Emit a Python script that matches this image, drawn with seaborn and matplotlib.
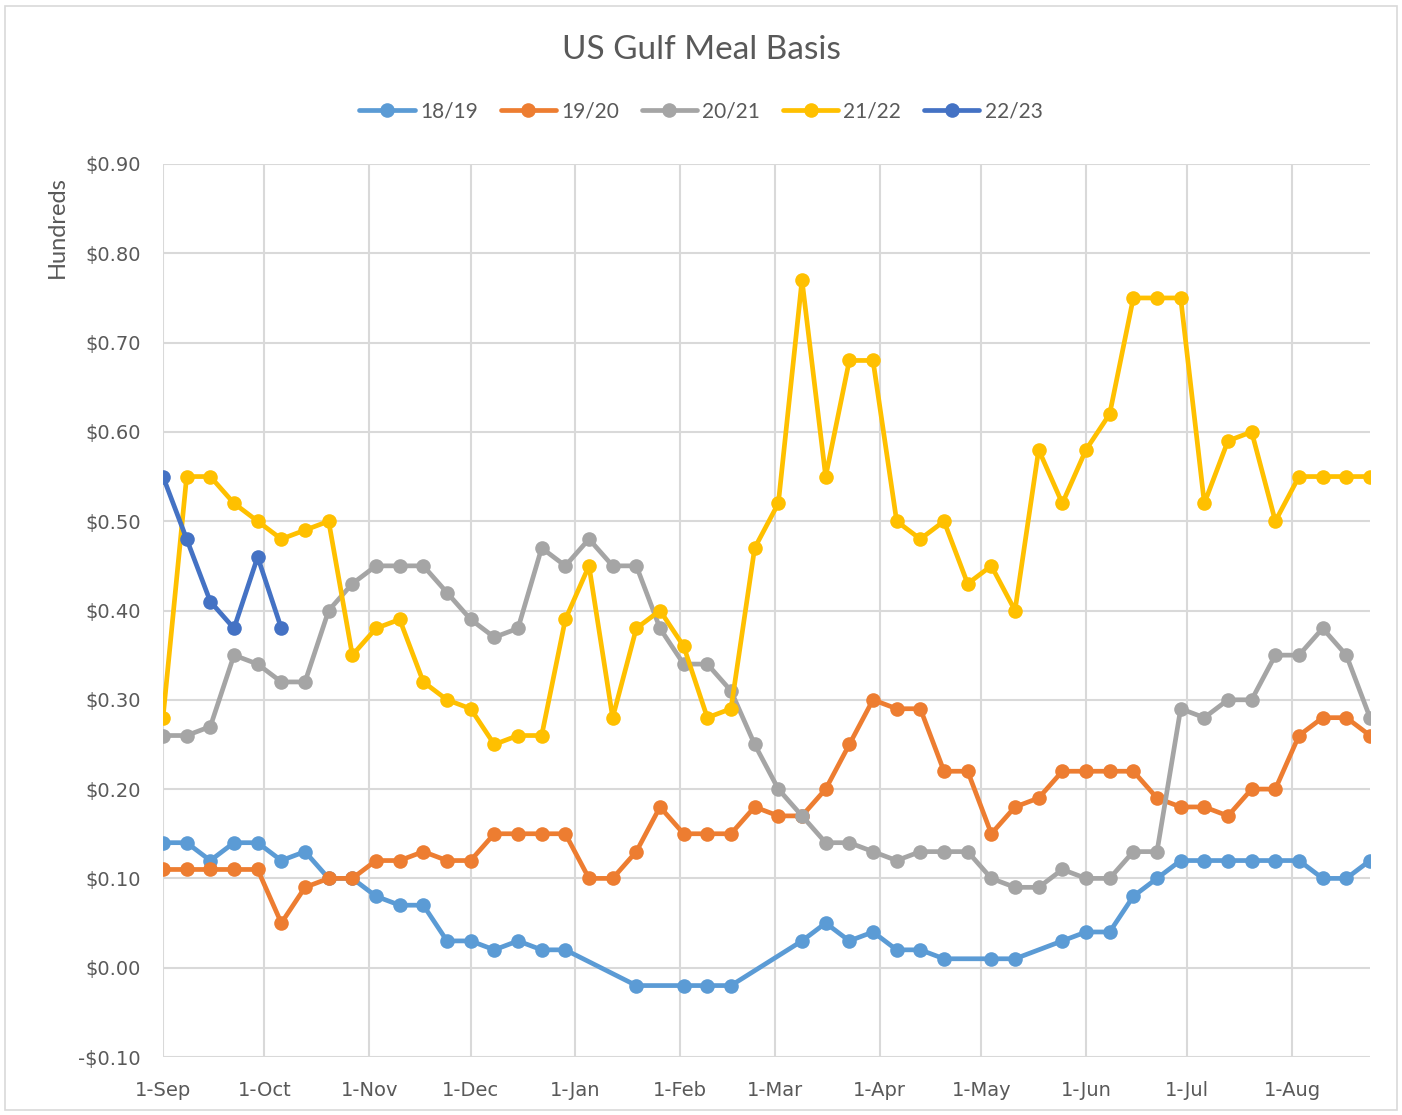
import numpy as np
import pandas as pd
import seaborn as sns
import matplotlib.pyplot as plt
from matplotlib.lines import Line2D
from matplotlib.patches import Rectangle
from matplotlib.ticker import FuncFormatter

# weekly observations, starting 1-Sep (52 weeks)
n_weeks = 52
s1819 = [0.14, 0.14, 0.12, 0.14, 0.14, 0.12, 0.13, 0.10, 0.10, 0.08, 0.07, 0.07, 0.03,
         0.03, 0.02, 0.03, 0.02, 0.02, np.nan, np.nan, -0.02, np.nan, -0.02, -0.02, -0.02,
         np.nan, np.nan, 0.03, 0.05, 0.03, 0.04, 0.02, 0.02, 0.01, np.nan, 0.01, 0.01,
         np.nan, 0.03, 0.04, 0.04, 0.08, 0.10, 0.12, 0.12, 0.12, 0.12, 0.12, 0.12, 0.10,
         0.10, 0.12]
s1920 = [0.11, 0.11, 0.11, 0.11, 0.11, 0.05, 0.09, 0.10, 0.10, 0.12, 0.12, 0.13, 0.12,
         0.12, 0.15, 0.15, 0.15, 0.15, 0.10, 0.10, 0.13, 0.18, 0.15, 0.15, 0.15, 0.18,
         0.17, 0.17, 0.20, 0.25, 0.30, 0.29, 0.29, 0.22, 0.22, 0.15, 0.18, 0.19, 0.22,
         0.22, 0.22, 0.22, 0.19, 0.18, 0.18, 0.17, 0.20, 0.20, 0.26, 0.28, 0.28, 0.26]
s2021 = [0.26, 0.26, 0.27, 0.35, 0.34, 0.32, 0.32, 0.40, 0.43, 0.45, 0.45, 0.45, 0.42,
         0.39, 0.37, 0.38, 0.47, 0.45, 0.48, 0.45, 0.45, 0.38, 0.34, 0.34, 0.31, 0.25,
         0.20, 0.17, 0.14, 0.14, 0.13, 0.12, 0.13, 0.13, 0.13, 0.10, 0.09, 0.09, 0.11,
         0.10, 0.10, 0.13, 0.13, 0.29, 0.28, 0.30, 0.30, 0.35, 0.35, 0.38, 0.35, 0.28]
s2122 = [0.28, 0.55, 0.55, 0.52, 0.50, 0.48, 0.49, 0.50, 0.35, 0.38, 0.39, 0.32, 0.30,
         0.29, 0.25, 0.26, 0.26, 0.39, 0.45, 0.28, 0.38, 0.40, 0.36, 0.28, 0.29, 0.47,
         0.52, 0.77, 0.55, 0.68, 0.68, 0.50, 0.48, 0.50, 0.43, 0.45, 0.40, 0.58, 0.52,
         0.58, 0.62, 0.75, 0.75, 0.75, 0.52, 0.59, 0.60, 0.50, 0.55, 0.55, 0.55, 0.55]
s2223 = [0.55, 0.48, 0.41, 0.38, 0.46, 0.38]

seasons = ["18/19", "19/20", "20/21", "21/22", "22/23"]
series = [s1819, s1920, s2021, s2122, s2223]
colors = ["#5B9BD5", "#ED7D31", "#A5A5A5", "#FFC000", "#4472C4"]
month_labels = ["1-Sep", "1-Oct", "1-Nov", "1-Dec", "1-Jan", "1-Feb", "1-Mar",
                "1-Apr", "1-May", "1-Jun", "1-Jul", "1-Aug"]
yticks = np.arange(-0.10, 0.91, 0.10)

dates = pd.date_range("2018-09-01", periods=n_weeks, freq="7D")
rows = []
for name, vals in zip(seasons, series):
    for d, v in zip(dates, vals):
        rows.append({"date": d, "basis": v, "season": name})
df = pd.DataFrame(rows).dropna()

sns.set_theme(style="white")
plt.rcParams["font.family"] = ["Lato", "DejaVu Sans"]
grey_txt = "#595959"
lw, ms = 3.4, 10.5

fig = plt.figure(figsize=(14.02, 11.15), dpi=100)
ax = fig.add_axes([163 / 1402, 1 - 1057 / 1115, (1370 - 163) / 1402, (1057 - 164) / 1115])

sns.lineplot(data=df, x="date", y="basis", hue="season", hue_order=seasons,
             palette=dict(zip(seasons, colors)), marker="o", markersize=ms,
             markeredgewidth=0, linewidth=lw, ax=ax, legend=False, sort=True,
             estimator=None)

month_ticks = pd.date_range("2018-09-01", periods=12, freq="MS")
ax.set_xticks(month_ticks)
ax.set_xticklabels(month_labels, fontsize=14, color=grey_txt, family="DejaVu Sans")
ax.set_xlim(dates[0], dates[-1])
ax.set_ylim(-0.10, 0.90)
ax.set_yticks(yticks)
ax.yaxis.set_major_formatter(FuncFormatter(
    lambda v, p: ("-$%.2f" % abs(v)) if v < -1e-9 else ("$%.2f" % abs(v))))
for lab in ax.get_yticklabels():
    lab.set_fontsize(14)
    lab.set_color(grey_txt)
    lab.set_family("DejaVu Sans")
ax.tick_params(axis="y", length=0, pad=16)
ax.tick_params(axis="x", length=0, pad=17)
ax.grid(True, color="#D9D9D9", linewidth=1.5)
ax.set_axisbelow(True)
for sp in ax.spines.values():
    sp.set_visible(False)
ax.set_xlabel("")
ax.set_ylabel("")

fig.text(57 / 1402, 1 - 227 / 1115, "Hundreds", rotation=90, ha="center", va="center",
         fontsize=17, color=grey_txt)
fig.text(0.5, 1 - 50 / 1115, "US Gulf Meal Basis", ha="center", va="center",
         fontsize=24, color=grey_txt)

handles = [Line2D([0], [0], color=c, linewidth=lw, marker="o", markersize=ms,
                  markeredgewidth=0) for c in colors]
fig.legend(handles, seasons, loc="center", bbox_to_anchor=(0.5, 1 - 111 / 1115),
           ncol=5, frameon=False, fontsize=15, labelcolor=grey_txt, handlelength=2.65,
           handletextpad=0.25, columnspacing=1.1)

fig.patches.append(Rectangle((5 / 1402, 5 / 1115), 1392 / 1402, 1104 / 1115,
                             transform=fig.transFigure, fill=False,
                             edgecolor="#D9D9D9", linewidth=1.2))

fig.savefig("out.png", dpi=100)
